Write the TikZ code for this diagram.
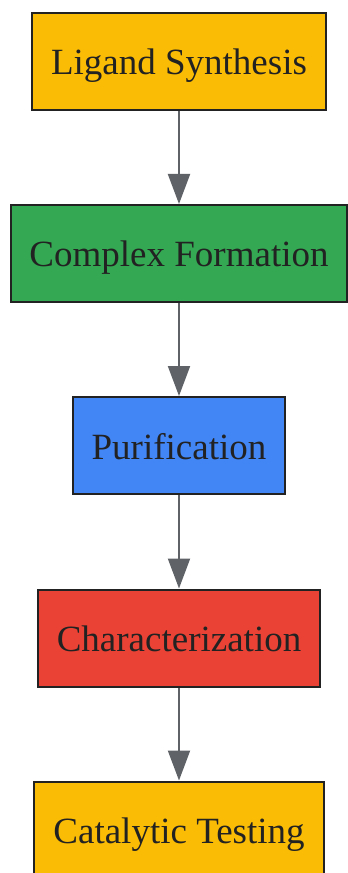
\documentclass[tikz,border=0pt]{standalone}
\usepackage{fontspec}
\setmainfont{Liberation Serif}
\usetikzlibrary{arrows.meta}
\definecolor{stepyellow}{HTML}{FBBC05}
\definecolor{stepgreen}{HTML}{34A853}
\definecolor{stepblue}{HTML}{4285F4}
\definecolor{stepred}{HTML}{EA4335}
\definecolor{edgegray}{HTML}{5F6368}
\definecolor{inkdark}{HTML}{222222}
\begin{document}
\begin{tikzpicture}[x=0.75pt,y=0.75pt,yscale=-1,xscale=1,
    stepbox/.style={draw=inkdark,line width=1.5pt,text=inkdark,minimum height=72.75pt,inner xsep=14.2pt,text height=20.25pt,text depth=0pt,font=\fontsize{27.75}{33}\selectfont},
    flow/.style={draw=edgegray,line width=1.5pt,-{Triangle[length=22.5pt,width=16.5pt]}}]
                \useasboundingbox (0,0) rectangle (347,873);
                \node (ligand) [stepbox,fill=stepyellow] at (179,61.5) {Ligand Synthesis};
                \node (complex) [stepbox,fill=stepgreen] at (179,253.5) {Complex Formation};
                \node (purif) [stepbox,fill=stepblue] at (179,445.5) {Purification};
                \node (charact) [stepbox,fill=stepred] at (179,638) {Characterization};
                \node (catal) [stepbox,fill=stepyellow] at (179,830) {Catalytic Testing};
                \draw [flow] (ligand) -- (complex);
                \draw [flow] (complex) -- (purif);
                \draw [flow] (purif) -- (charact);
                \draw [flow] (charact) -- (catal);
            \end{tikzpicture}
\end{document}
